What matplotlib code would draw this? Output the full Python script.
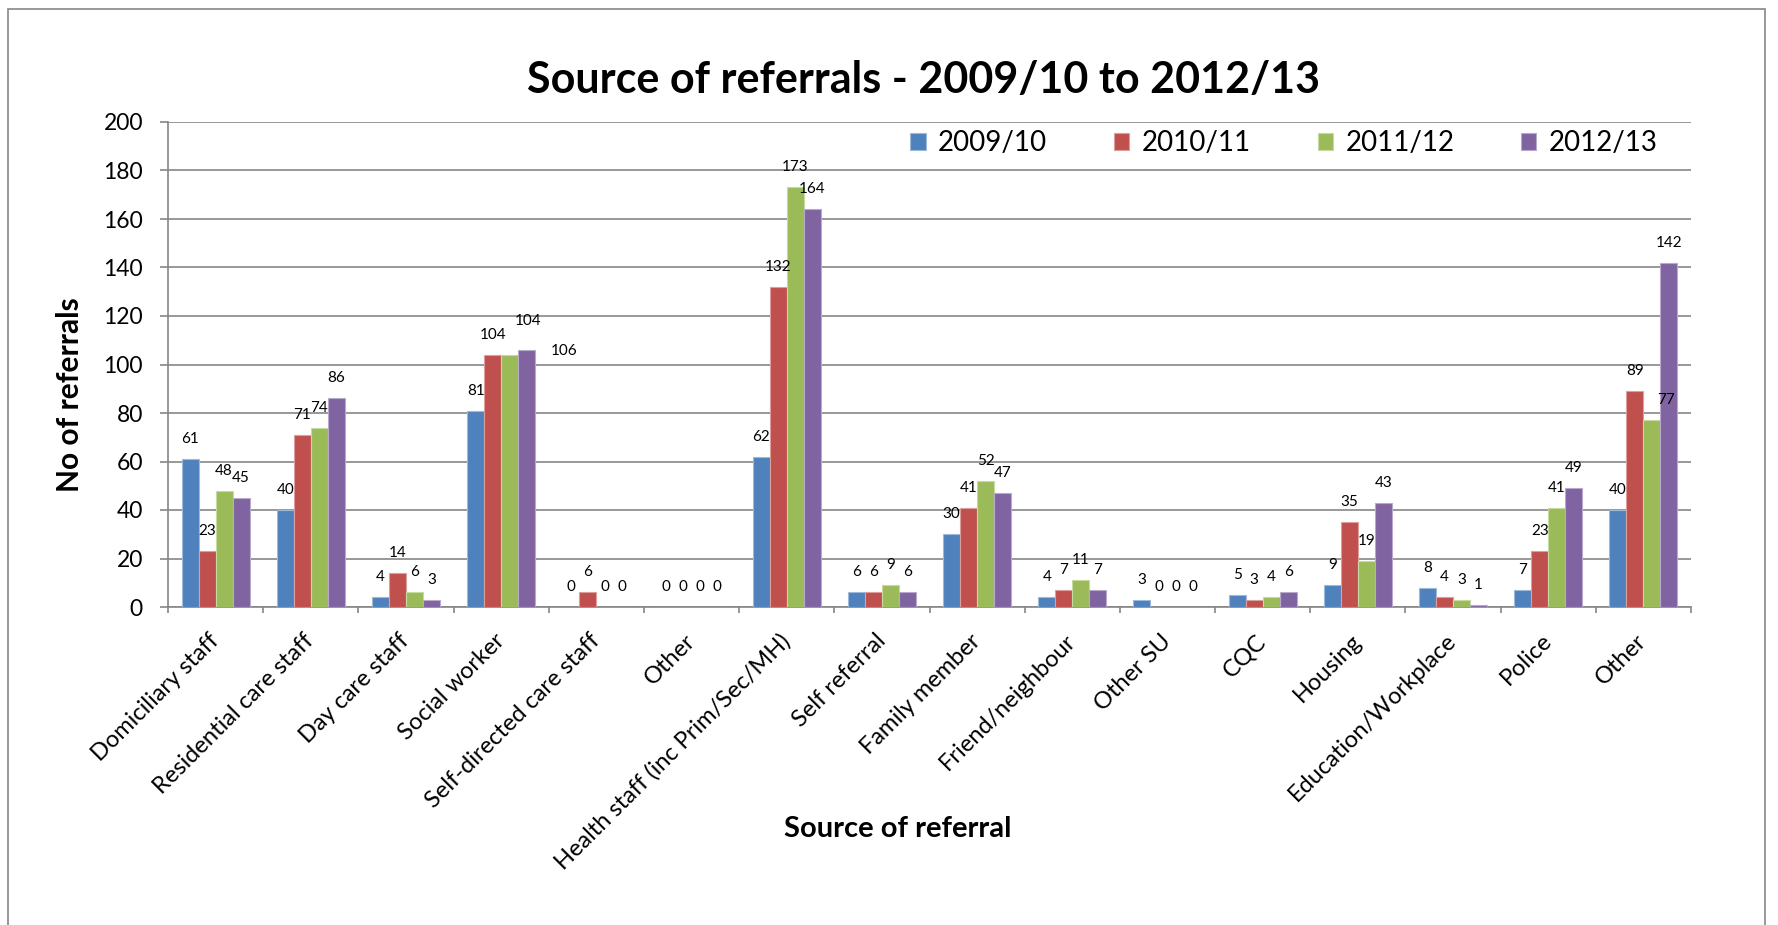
import numpy as np
import matplotlib
matplotlib.use("Agg")
import matplotlib.pyplot as plt
from matplotlib.colors import to_rgb
from matplotlib.patches import Rectangle

plt.rcParams['font.family'] = ['Lato', 'DejaVu Sans']

categories = ["Domiciliary staff", "Residential care staff", "Day care staff",
              "Social worker", "Self-directed care staff", "Other",
              "Health staff (inc Prim/Sec/MH)", "Self referral", "Family member",
              "Friend/neighbour", "Other SU", "CQC", "Housing",
              "Education/Workplace", "Police", "Other"]
years = ["2009/10", "2010/11", "2011/12", "2012/13"]
y_2009_10 = [61, 40, 4, 81, 0, 0, 62, 6, 30, 4, 3, 5, 9, 8, 7, 40]
y_2010_11 = [23, 71, 14, 104, 6, 0, 132, 6, 41, 7, 0, 3, 35, 4, 23, 89]
y_2011_12 = [48, 74, 6, 104, 0, 0, 173, 9, 52, 11, 0, 4, 19, 3, 41, 77]
y_2012_13 = [45, 86, 3, 106, 0, 0, 164, 6, 47, 7, 0, 6, 43, 1, 49, 142]
series = [y_2009_10, y_2010_11, y_2011_12, y_2012_13]
colors = ["#4F81BD", "#C0504D", "#9BBB59", "#8064A2"]

# a few labels sit off-centre in the original (pixels: dx, dy)
label_nudge = {(3, 2): (18, 14), (3, 3): (37, -21), (15, 2): (14, 0)}

W, H, DPI = 1778, 925, 100
GRID = "#868686"


def lighter(c, k=0.45):
    r, g, b = to_rgb(c)
    return (r + (1 - r) * k, g + (1 - g) * k, b + (1 - b) * k)


fig = plt.figure(figsize=(W / DPI, H / DPI), dpi=DPI)
fig.patch.set_facecolor("white")
fig.patches.append(Rectangle((8 / W, -0.05), (1765 - 8) / W, 1.05 - 9 / H,
                             transform=fig.transFigure, fill=False,
                             edgecolor=GRID, linewidth=1.2))

ax = fig.add_axes([168 / W, (H - 607) / H, (1691 - 168) / W, (607 - 122) / H])

n = len(categories)
x = np.arange(n) + 0.5
bw = 0.1786
for i, (vals, col) in enumerate(zip(series, colors)):
    pos = x + (i - 1.5) * bw
    ax.bar(pos, vals, width=bw, color=col, edgecolor=lighter(col),
           linewidth=0.8, label=years[i], zorder=3)
    for j, v in enumerate(vals):
        dx, dy = label_nudge.get((j, i), (0, 0))
        ax.annotate(str(v), (pos[j], v), xytext=(dx * 0.72, (16 + dy) * 0.72),
                    textcoords="offset points", ha="center", va="baseline",
                    fontsize=11, color="black", zorder=4)

ax.set_xlim(0, n)
ax.set_ylim(0, 200)
ax.set_yticks(np.arange(0, 201, 20))
ax.yaxis.grid(True, color=GRID, linewidth=1.2, zorder=0)
ax.set_axisbelow(True)

ax.set_xticks(np.arange(0, n + 1))
ax.set_xticklabels([])
ax.set_xticks(x, minor=True)
ax.set_xticklabels(categories, minor=True, rotation=45, ha="right",
                   va="center", rotation_mode="anchor", fontsize=17)
ax.tick_params(axis="x", which="major", direction="out", length=4.5,
               color=GRID, width=1.2)
ax.tick_params(axis="x", which="minor", length=0, pad=22)
ax.tick_params(axis="y", direction="out", length=6, color=GRID, width=1.2,
               labelsize=16.5, pad=12)

for s in ["top", "right"]:
    ax.spines[s].set_visible(False)
for s in ["left", "bottom"]:
    ax.spines[s].set_color(GRID)
    ax.spines[s].set_linewidth(1.2)

fig.text(924 / W, 1 - 80 / H, "Source of referrals - 2009/10 to 2012/13",
         ha="center", va="center", fontsize=31, fontweight="bold")
fig.text(70 / W, 1 - 395 / H, "No of referrals", rotation=90,
         ha="center", va="center", fontsize=21.5, fontweight="bold")
fig.text(898 / W, 1 - 829 / H, "Source of referral",
         ha="center", va="center", fontsize=21, fontweight="bold")

ax.legend(ncol=4, frameon=False, loc="center",
          bbox_to_anchor=(1284 / W, 1 - 143 / H), bbox_transform=fig.transFigure,
          fontsize=20, handlelength=0.55, handleheight=0.55,
          handletextpad=0.45, columnspacing=2.4, borderpad=0)

fig.savefig("out.png", dpi=DPI, facecolor="white")
